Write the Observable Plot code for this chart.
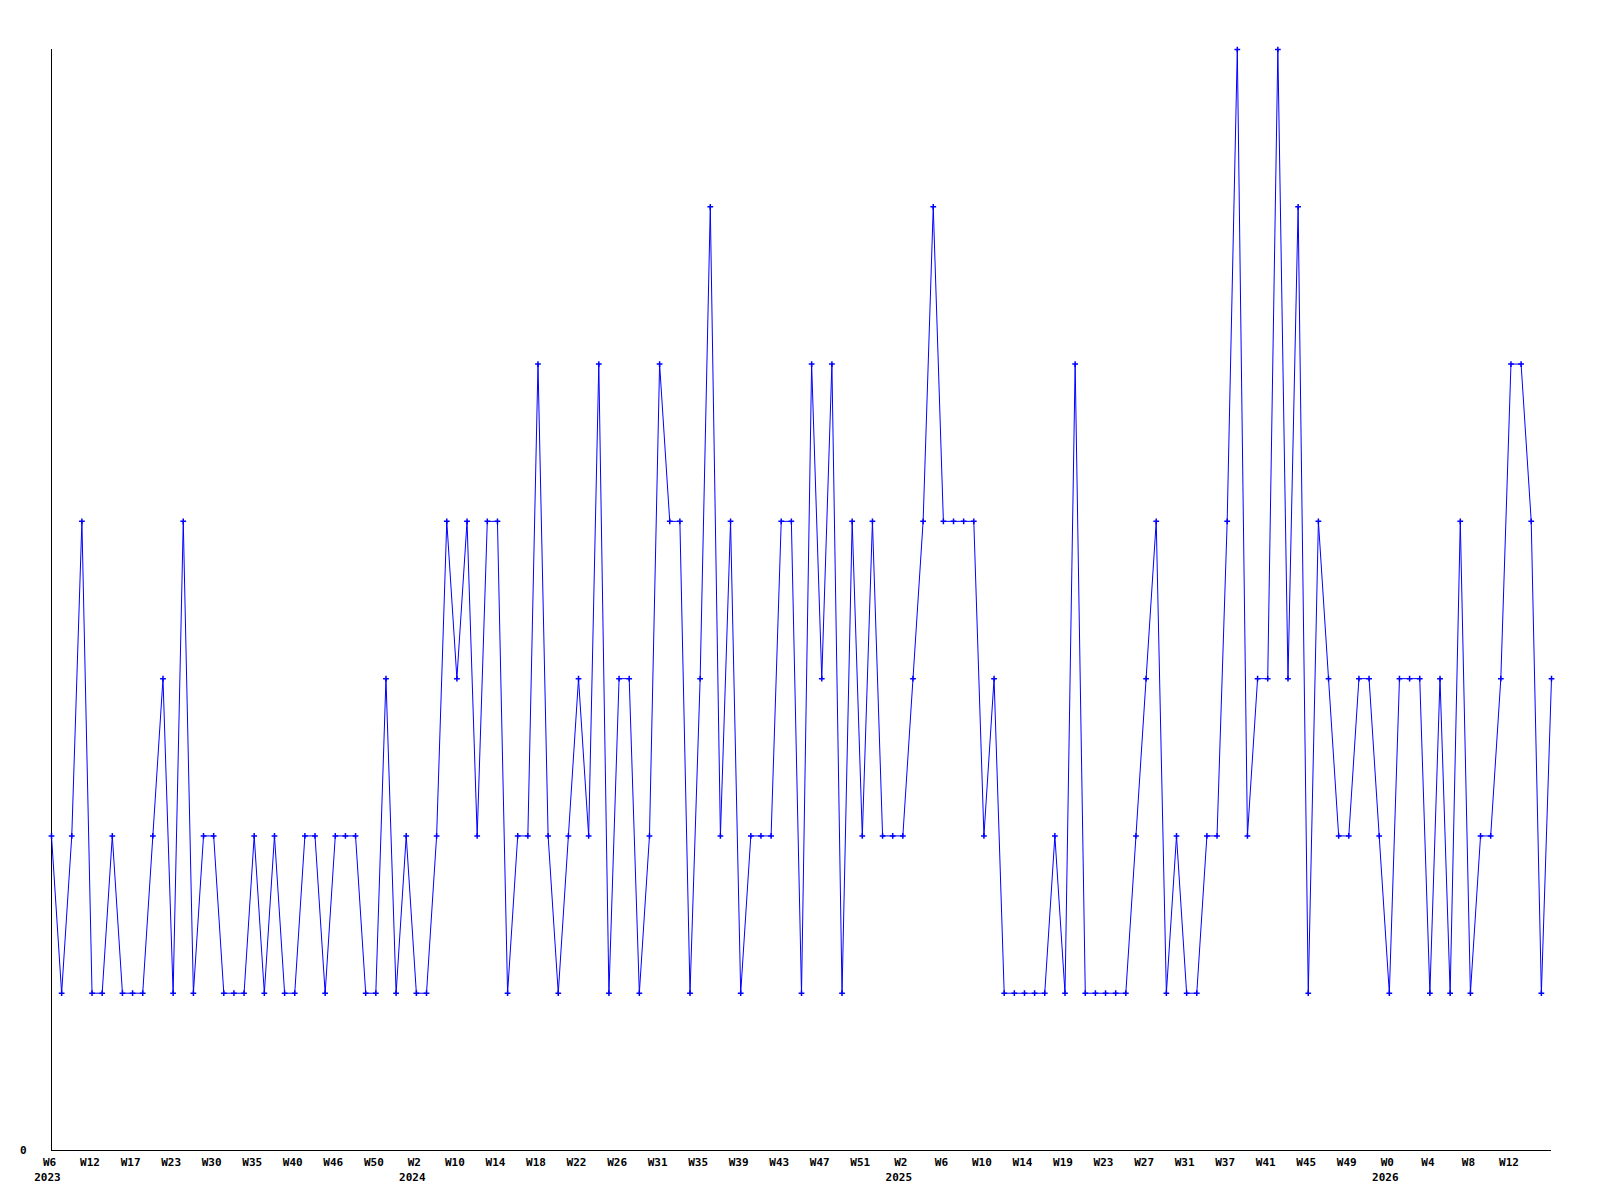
<!DOCTYPE html>
<html>
<head>
<meta charset="utf-8">
<script src="https://cdn.jsdelivr.net/npm/d3@7"></script>
<script src="https://cdn.jsdelivr.net/npm/@observablehq/plot@0.6"></script>
<style>
  html, body { margin: 0; padding: 0; background: #ffffff; }
  #chart { width: 1600px; height: 1200px; }
</style>
</head>
<body>
<div id="chart"></div>
<script>
// Weekly values (one per plotted week)
const values = [
  2,1,2,4,1,1,2,1,1,1,
  2,3,1,4,1,2,2,1,1,1,
  2,1,2,1,1,2,2,1,2,2,
  2,1,1,3,1,2,1,1,2,4,
  3,4,2,4,4,1,2,2,5,2,
  1,2,3,2,5,1,3,3,1,2,
  5,4,4,1,3,6,2,4,1,2,
  2,2,4,4,1,5,3,5,1,4,
  2,4,2,2,2,3,4,6,4,4,
  4,4,2,3,1,1,1,1,1,2,
  1,5,1,1,1,1,1,2,3,4,
  1,2,1,1,2,2,4,7,2,3,
  3,7,3,6,1,4,3,2,2,3,
  3,2,1,3,3,3,1,3,1,4,
  1,2,2,3,5,5,4,1,3
];

// Tick labels, one every 4th point
const tickWeeks = ["W6","W12","W17","W23","W30","W35","W40","W46","W50",
  "W2","W10","W14","W18","W22","W26","W31","W35","W39","W43","W47","W51",
  "W2","W6","W10","W14","W19","W23","W27","W31","W37","W41","W45","W49",
  "W0","W4","W8","W12"];
const tickYears = ["2023","","","","","","","","",
  "2024","","","","","","","","","","","",
  "2025","","","","","","","","","","","",
  "2026","","",""];
const tickStep = 4;
const yTickLabels = ["0"];

const data = values.map((v, i) => ({i, v}));
const ticks = tickWeeks.map((w, k) => ({i: k * tickStep, week: w, year: tickYears[k]}));
const n = values.length;
const yMax = 7;

const font = "DejaVu Sans Mono";

const chart = Plot.plot({
  width: 1600,
  height: 1200,
  marginTop: 49,
  marginBottom: 50,
  marginLeft: 51,
  marginRight: 49,
  style: {fontFamily: font, fontSize: "11px", fontWeight: "bold", background: "#ffffff", color: "#000"},
  x: {type: "linear", domain: [0, n - 1], axis: null},
  y: {type: "linear", domain: [0, yMax], axis: null},
  marks: [
    Plot.ruleX([0], {y1: 0, y2: yMax, stroke: "#000", strokeWidth: 1}),
    Plot.ruleY([0], {x1: 0, x2: n - 1, stroke: "#000", strokeWidth: 1}),
    Plot.line(data, {x: "i", y: "v", stroke: "#0000ff", strokeWidth: 1, curve: "linear"}),
    Plot.dot(data, {x: "i", y: "v", symbol: "plus", r: 2, stroke: "#0000ff", strokeWidth: 1.5}),
    Plot.text(ticks, {x: "i", y: 0, text: "week", dy: 12, dx: -2, textAnchor: "middle", fill: "#000", fontFamily: font, fontSize: 11, fontWeight: "bold"}),
    Plot.text(ticks.filter(d => d.year), {x: "i", y: 0, text: "year", dy: 27, dx: -4, textAnchor: "middle", fill: "#000", fontFamily: font, fontSize: 11, fontWeight: "bold"}),
    Plot.text(yTickLabels, {x: 0, y: d => +d, text: d => d, dx: -25, textAnchor: "end", fill: "#000", fontFamily: font, fontSize: 11, fontWeight: "bold"})
  ]
});
document.getElementById("chart").appendChild(chart);
</script>
</body>
</html>
